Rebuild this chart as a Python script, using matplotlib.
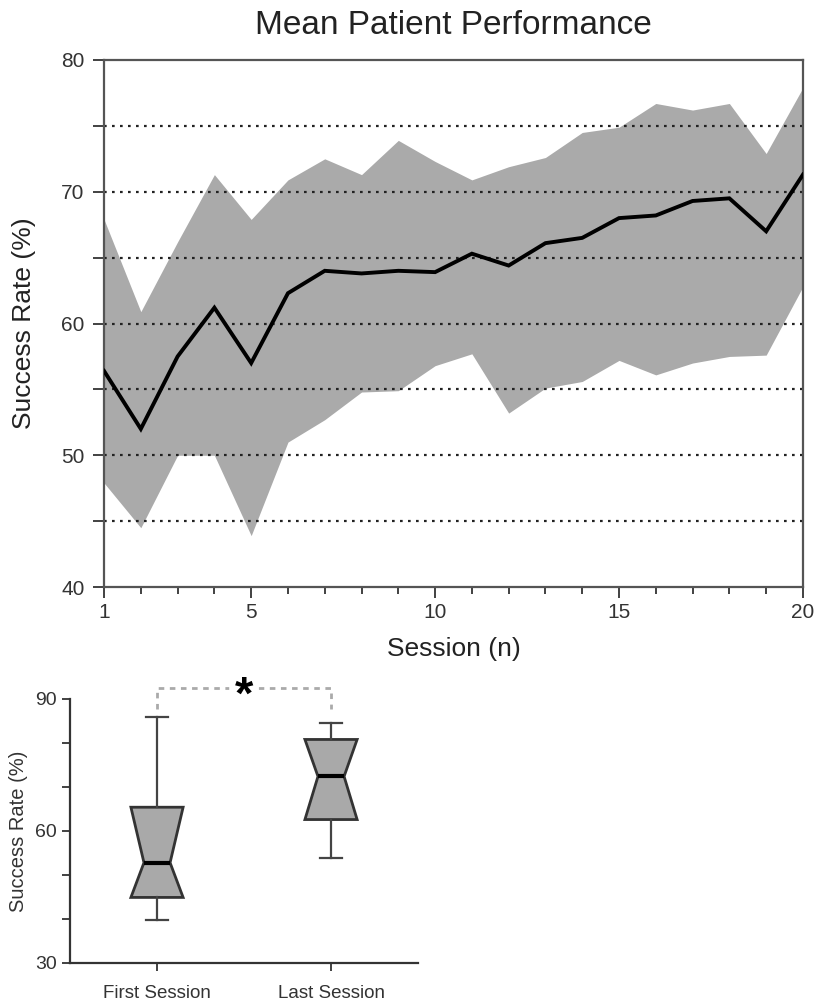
import matplotlib.pyplot as plt
import numpy as np

plt.rcParams['font.family'] = ['Liberation Sans', 'DejaVu Sans']

# Top panel data
sessions = np.arange(1, 21)
mean_rate = [56.4, 52.0, 57.5, 61.2, 57.0, 62.3, 64.0, 63.8, 64.0, 63.9,
             65.3, 64.4, 66.1, 66.5, 68.0, 68.2, 69.3, 69.5, 67.0, 71.3]
upper_rate = [67.9, 60.9, 66.2, 71.3, 67.9, 70.9, 72.5, 71.3, 73.9, 72.3,
              70.9, 71.9, 72.6, 74.5, 74.9, 76.7, 76.2, 76.7, 72.9, 77.9]
lower_rate = [47.9, 44.5, 50.0, 50.0, 43.9, 51.0, 52.7, 54.8, 54.9, 56.8,
              57.7, 53.2, 55.1, 55.6, 57.2, 56.1, 57.0, 57.5, 57.6, 62.8]
grid_levels = [45, 50, 55, 60, 65, 70, 75]

# Bottom panel data
box_labels = ['First Session', 'Last Session']
box_whishi = [85.9, 84.6]
box_q3 = [65.4, 80.8]
box_med = [52.8, 72.4]
box_q1 = [44.9, 62.6]
box_whislo = [39.8, 53.8]

fig = plt.figure(figsize=(8.16, 10.05), dpi=100)

# ---- top panel
ax = fig.add_axes([0.1275, 0.4159, 0.8565, 0.5244])
ax.fill_between(sessions, lower_rate, upper_rate, color='#aaaaaa', lw=0, zorder=1)
for g in grid_levels:
    ax.axhline(g, color='#222222', lw=1.6, ls=(0, (1.2, 2.4)), zorder=2)
ax.plot(sessions, mean_rate, color='black', lw=2.8, zorder=3, solid_joinstyle='miter')
ax.set_xlim(1, 20)
ax.set_ylim(40, 80)
ax.set_xticks([1, 5, 10, 15, 20])
ax.set_xticks(sessions, minor=True)
ax.set_yticks([40, 50, 60, 70, 80])
ax.set_yticks([45, 55, 65, 75], minor=True)
ax.tick_params(axis='both', which='major', length=8, width=1.3, color='#333333',
               labelsize=15, labelcolor='#333333')
ax.tick_params(axis='y', which='major', pad=6)
ax.tick_params(axis='x', which='minor', length=5, width=1.3, color='#333333')
ax.tick_params(axis='y', which='minor', length=8, width=1.3, color='#333333')
for s in ax.spines.values():
    s.set_color('#555555')
    s.set_linewidth(1.6)
ax.set_xlabel('Session (n)', fontsize=19, color='#222222', labelpad=11)
ax.set_ylabel('Success Rate (%)', fontsize=19, color='#222222', labelpad=18)
ax.set_title('Mean Patient Performance', fontsize=24, color='#222222', pad=19)

# ---- bottom panel
bx = fig.add_axes([0.0858, 0.0418, 0.4265, 0.2627])
stats = []
for i in range(2):
    stats.append(dict(med=box_med[i], q1=box_q1[i], q3=box_q3[i],
                      whislo=box_whislo[i], whishi=box_whishi[i],
                      cilo=box_q1[i], cihi=box_q3[i], fliers=[]))
bx.bxp(stats, positions=[1, 2], widths=0.3, capwidths=0.13, shownotches=True,
       patch_artist=True, showfliers=False,
       boxprops=dict(facecolor='#a9a9a9', edgecolor='#333333', lw=2),
       whiskerprops=dict(color='#444444', lw=1.6),
       capprops=dict(color='#444444', lw=1.6),
       medianprops=dict(color='black', lw=3))
bx.set_xlim(0.5, 2.5)
bx.set_ylim(30, 90)
bx.set_xticks([1, 2])
bx.set_xticklabels(box_labels)
bx.set_yticks([30, 60, 90])
bx.set_yticks([40, 50, 70, 80], minor=True)
bx.tick_params(axis='both', which='both', length=6, width=1.3, color='#333333',
               labelsize=14, labelcolor='#333333')
bx.tick_params(axis='x', pad=10, labelsize=13.5)
for side in ['top', 'right']:
    bx.spines[side].set_visible(False)
for side in ['left', 'bottom']:
    bx.spines[side].set_color('#333333')
    bx.spines[side].set_linewidth(1.6)
bx.set_ylabel('Success Rate (%)', fontsize=14.5, color='#333333', labelpad=5)

# significance bracket
bx.plot([1, 1, 2, 2], [87.8, 92.4, 92.4, 87.8], color='#aaaaaa', lw=2,
        ls=(0, (2, 2)), clip_on=False, zorder=1)
bx.text(1.5, 90.6, '*', fontsize=34, fontweight='bold', ha='center', va='center',
        color='black', clip_on=False, zorder=3)
bx.plot([1.43, 1.57], [92.4, 92.4], color='white', lw=4, clip_on=False, zorder=2)

fig.savefig('out.png', dpi=100)
